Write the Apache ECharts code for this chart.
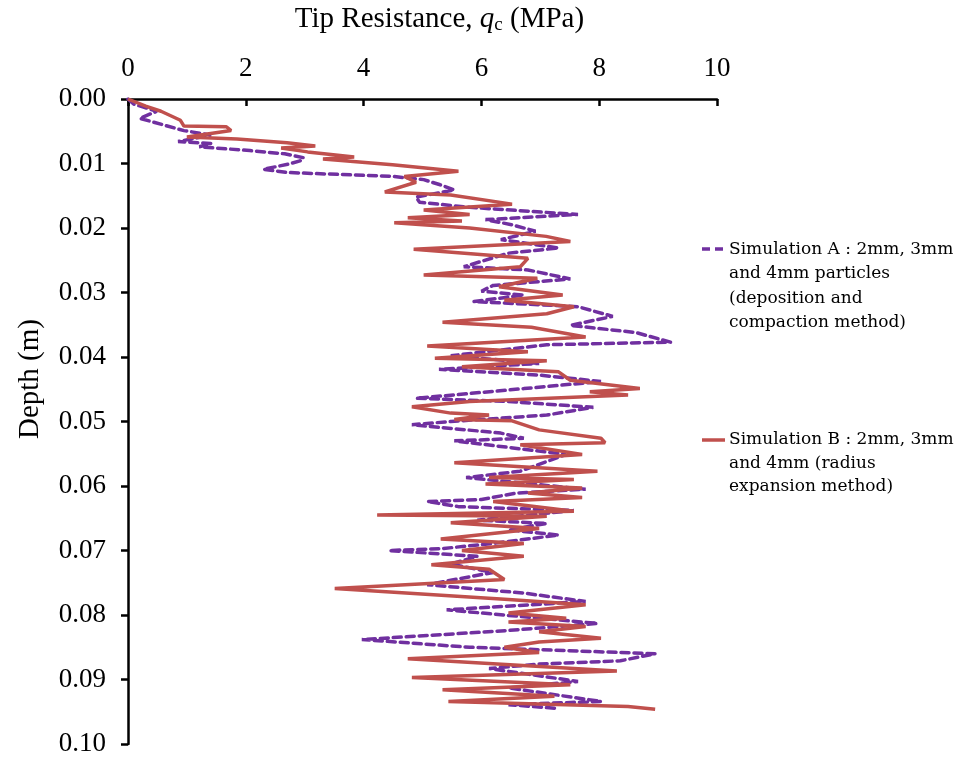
<!DOCTYPE html>
<html>
<head>
<meta charset="utf-8">
<script src="https://cdn.jsdelivr.net/npm/echarts@6/dist/echarts.min.js"></script>
<style>
  html, body { margin: 0; padding: 0; background: #fff; }
  #chart { width: 965px; height: 760px; }
</style>
</head>
<body>
<div id="chart"></div>
<script>
// depth (m) and tip resistance (MPa)
let depthA = [0,0.0008,0.0019,0.003,0.0049,0.0056,0.0066,0.0069,0.0074,0.008,0.0085,0.0091,0.0096,0.0101,0.0109,0.0114,0.012,0.0125,0.0133,0.0141,0.0152,0.016,0.0168,0.0179,0.0187,0.0195,0.0205,0.0218,0.0231,0.0239,0.026,0.0265,0.0279,0.0289,0.0298,0.0304,0.0314,0.0322,0.0337,0.0351,0.0362,0.0377,0.0381,0.0398,0.041,0.0419,0.0428,0.0438,0.0449,0.0464,0.0469,0.0478,0.049,0.05,0.0505,0.0518,0.0526,0.053,0.0551,0.0577,0.0587,0.0605,0.0611,0.0621,0.0624,0.0632,0.0638,0.0653,0.0658,0.0668,0.0676,0.0689,0.0697,0.07,0.0709,0.0721,0.0734,0.0753,0.0766,0.0779,0.0792,0.0813,0.0824,0.0838,0.085,0.086,0.0871,0.0876,0.0883,0.0903,0.0913,0.0934,0.0939,0.0945]
let qA = [0,0.1,0.49,0.2,0.95,1.41,0.85,1.41,1.21,2.07,2.66,2.98,2.92,2.72,2.3,2.72,4.49,5.02,5.3,5.54,4.89,4.95,5.8,7.64,6.07,6.52,6.92,6.33,7.31,6.46,5.7,6.79,7.51,6.2,6.0,6.72,5.87,7.64,8.23,7.51,8.62,9.21,7.11,5.48,6.98,5.28,6.98,8.03,6.72,4.89,6.46,7.9,7.11,5.48,4.82,6.33,6.72,5.54,7.44,6.66,5.74,7.77,6.59,6.0,5.08,5.61,7.57,5.93,7.11,6.46,7.31,6.2,5.34,4.43,5.93,5.48,6.2,5.08,6.72,7.77,5.41,7.97,6.46,3.97,5.8,8.95,8.36,6.98,6.13,7.64,6.46,8.03,6.46,7.31]

let depthB = [0,0.0011,0.0019,0.0033,0.0042,0.0043,0.0049,0.0059,0.0062,0.0068,0.0073,0.0076,0.0082,0.009,0.0093,0.0102,0.0112,0.012,0.0129,0.0144,0.0149,0.0163,0.0172,0.0179,0.0184,0.0189,0.0192,0.02,0.0213,0.0221,0.0233,0.0247,0.026,0.0273,0.0278,0.0291,0.0304,0.0312,0.0322,0.0333,0.0346,0.0354,0.0369,0.0383,0.0392,0.0402,0.0406,0.0415,0.0423,0.0436,0.0449,0.0454,0.0459,0.0469,0.0477,0.0487,0.049,0.0497,0.0499,0.0513,0.0526,0.0533,0.0536,0.0551,0.0564,0.0577,0.0587,0.059,0.0597,0.0603,0.0611,0.0618,0.0624,0.0639,0.0645,0.0647,0.0657,0.0666,0.0682,0.0689,0.07,0.0709,0.0722,0.0729,0.0745,0.0759,0.0776,0.0784,0.0797,0.0805,0.0811,0.0818,0.0826,0.0836,0.0842,0.085,0.0858,0.0868,0.0887,0.0897,0.0908,0.0916,0.0926,0.0934,0.0942,0.0946]
let qB = [0,0.3,0.56,0.89,0.95,1.67,1.75,1.0,1.85,2.7,3.18,2.6,3.05,3.84,3.31,4.49,5.61,4.69,4.89,4.36,5.48,6.52,5.02,5.8,4.75,5.67,4.52,5.8,7.1,7.51,4.85,6.79,6.66,5.02,6.95,6.3,7.38,6.39,7.57,7.11,5.34,6.85,7.77,5.08,6.79,5.21,7.11,5.67,7.31,7.51,8.69,7.84,8.49,5.8,4.82,5.48,6.13,5.54,6.52,6.98,8.03,8.1,6.66,7.71,5.54,7.97,6.13,7.57,6.07,7.71,6.79,7.71,6.2,7.57,4.23,7.11,5.48,6.98,5.31,6.72,5.67,6.72,5.15,6.13,6.39,3.51,6.46,7.77,6.46,7.44,6.46,7.77,6.98,8.03,6.98,6.39,6.98,4.75,8.3,4.82,7.51,5.34,7.24,5.44,8.49,8.95]

let xTicks = [0, 10, 2]      // min, max, step
let yTicks = [0, 0.1, 0.01]

let nameA = 'Simulation A : 2mm, 3mm\nand 4mm particles\n(deposition and\ncompaction method)'
let nameB = 'Simulation B : 2mm, 3mm\nand 4mm (radius\nexpansion method)'

const purple = '#7030A0'
const red = '#C0504D'
const serif = 'Liberation Serif'

let chart = echarts.init(document.getElementById('chart'))

function pairs(q, d) {
  return q.map((v, i) => [v, d[i]])
}

chart.setOption({
  animation: false,
  backgroundColor: '#fff',
  grid: { left: 128, top: 99, right: 248, bottom: 16, containLabel: false, outerBoundsMode: 'none' },
  xAxis: {
    type: 'value',
    position: 'top',
    min: xTicks[0], max: xTicks[1], interval: xTicks[2],
    name: '{a|Tip Resistance, }{i|q}{s|c}{a| (MPa)}',
    nameLocation: 'middle',
    nameGap: 64,
    nameTextStyle: {
      padding: [0, 0, 0, 34],
      rich: {
        a: { fontFamily: serif, fontSize: 29, color: '#000' },
        i: { fontFamily: serif, fontSize: 29, fontStyle: 'italic', color: '#000' },
        s: { fontFamily: serif, fontSize: 19, color: '#000', padding: [13, 0, 0, 0] }
      }
    },
    axisLine: { lineStyle: { color: '#000', width: 2.5 } },
    axisTick: { inside: true, length: 7, lineStyle: { color: '#000', width: 2.5 } },
    axisLabel: { fontFamily: serif, fontSize: 27, color: '#000', margin: 17 },
    splitLine: { show: false }
  },
  yAxis: {
    type: 'value',
    inverse: true,
    min: yTicks[0], max: yTicks[1], interval: yTicks[2],
    axisLine: { show: true, lineStyle: { color: '#000', width: 2.5 } },
    axisTick: { show: true, length: 7, lineStyle: { color: '#000', width: 2.5 } },
    axisLabel: {
      fontFamily: serif, fontSize: 27, color: '#000', margin: 22,
      formatter: v => v.toFixed(2)
    },
    splitLine: { show: false }
  },
  series: [
    {
      name: nameA,
      type: 'line',
      showSymbol: false,
      data: pairs(qA, depthA),
      lineStyle: { color: purple, width: 3.5, type: [8, 5], cap: 'round' },
      itemStyle: { color: purple }
    },
    {
      name: nameB,
      type: 'line',
      showSymbol: false,
      data: pairs(qB, depthB),
      lineStyle: { color: red, width: 3.5 },
      itemStyle: { color: red }
    }
  ],
  graphic: [
    {
      type: 'text', x: 30, y: 379, rotation: Math.PI / 2,
      style: { text: 'Depth (m)', font: '29px "Liberation Serif"', fill: '#000',
        textAlign: 'center', textVerticalAlign: 'middle', align: 'center', verticalAlign: 'middle' }
    },
    {
      type: 'line', shape: { x1: 702, y1: 249, x2: 725, y2: 249 },
      style: { stroke: purple, lineWidth: 3.5, lineDash: [8, 5] }
    },
    {
      type: 'text', x: 729, y: 237,
      style: { text: nameA, font: '17px "DejaVu Serif"', fill: '#000', lineHeight: 24.5,
        textVerticalAlign: 'top', verticalAlign: 'top' }
    },
    {
      type: 'line', shape: { x1: 702, y1: 440, x2: 725, y2: 440 },
      style: { stroke: red, lineWidth: 3.5 }
    },
    {
      type: 'text', x: 729, y: 428,
      style: { text: nameB, font: '17px "DejaVu Serif"', fill: '#000', lineHeight: 23.5,
        textVerticalAlign: 'top', verticalAlign: 'top' }
    }
  ]
})
</script>
</body>
</html>
